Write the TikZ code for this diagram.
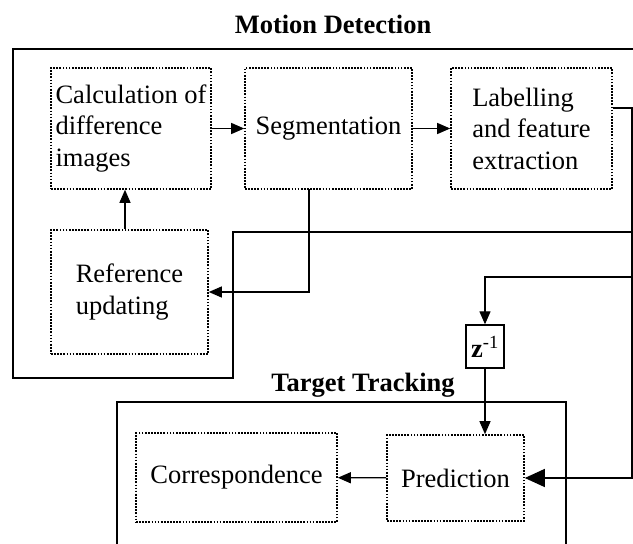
\documentclass[tikz,border=0pt]{standalone}
\usepackage{fontspec}
\setmainfont{Liberation Serif}
\usetikzlibrary{arrows.meta}

\begin{document}
\begin{tikzpicture}[x=1pt,y=-1pt,
    every node/.style={font=\fontsize{26.5}{31.5}\selectfont},
    stage/.style={draw,line width=1.6pt,dash pattern=on 1.7pt off 1.4pt,align=left,inner sep=2pt},
    frame/.style={line width=1.3pt},
    flow/.style={line width=1.2pt,-{Triangle[length=13pt,width=11pt]}},
    bigflow/.style={line width=1.2pt,-{Triangle[length=20pt,width=18pt]}}]
            \useasboundingbox (0,0) rectangle (633,544);

            \node[anchor=base,font=\fontsize{26.5}{31.5}\selectfont\bfseries] (mdtitle) at (333,33) {Motion Detection};
            \draw[frame] (633,49) -- (13,49) -- (13,378) -- (233,378) -- (233,232) -- (632,232);

            \node[stage,minimum width=160,minimum height=121] (calc) at (131,128.5) {Calculation of\\difference\\images};
            \node[stage,minimum width=167,minimum height=121] (seg) at (328.5,128.5) {Segmentation};
            \node[stage,minimum width=161,minimum height=121] (lab) at (531.5,128.5) {Labelling\\and feature\\extraction};
            \node[stage,minimum width=157,minimum height=124] (ref) at (129.5,292) {Reference\\updating};
            \draw[flow] (calc) -- (seg);
            \draw[flow] (seg) -- (lab);
            \draw[flow] ([xshift=-4.5pt]ref.north) -- ([xshift=-4.5pt]ref.north |- calc.south);

            \coordinate (segout) at (309,189);
            \draw[flow] (segout) |- (ref.east);

            \node[anchor=base,font=\fontsize{26.5}{31.5}\selectfont\bfseries] (tttitle) at (363,391) {Target Tracking};
            \draw[frame] (117,545) -- (117,402) -- (566,402) -- (566,545);

            \node[stage,minimum width=201,minimum height=89] (corr) at (236.5,477.5) {Correspondence};
            \node[stage,minimum width=137,minimum height=86] (pred) at (455.5,478) {Prediction};
            \node[draw,frame,minimum width=38,minimum height=43,inner sep=0pt] (zinv) at (485,346.5) {{\bfseries z}\textsuperscript{-1}};
            \draw[flow] (pred) -- (corr);

            \coordinate (busT) at (632,108);
            \coordinate (busM) at (632,277);
            \coordinate (busB) at (632,478);
            \draw[bigflow] ([yshift=20.5pt]lab.east) -- (busT) -- (busB) -- (pred.east);
            \draw[flow] (busM) -| (zinv.north);
            \draw[flow] (zinv.south) -- (zinv.south |- pred.north);
        \end{tikzpicture}
\end{document}
